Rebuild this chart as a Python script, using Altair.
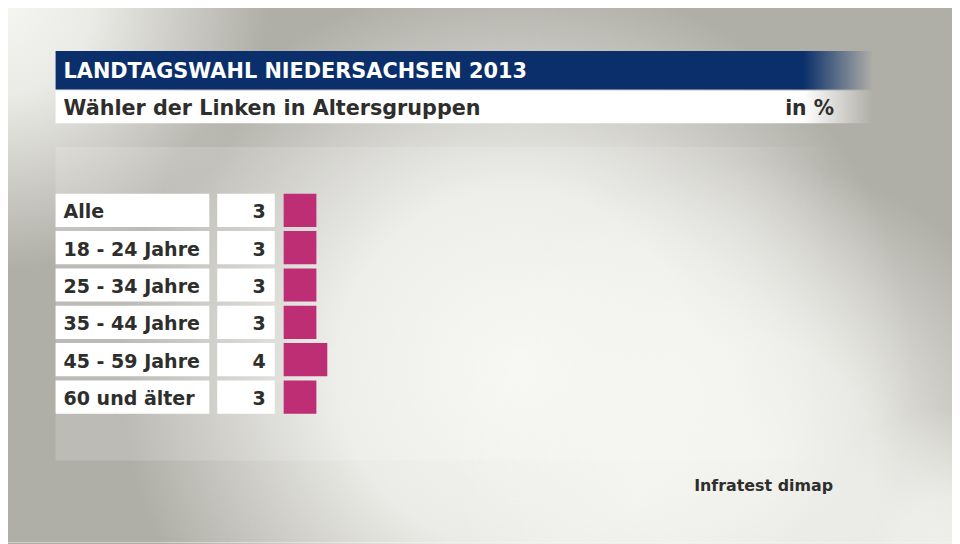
import altair as alt
import pandas as pd

# ---- data ----
categories = ["Alle", "18 - 24 Jahre", "25 - 34 Jahre", "35 - 44 Jahre", "45 - 59 Jahre", "60 und älter"]
values = [3, 3, 3, 3, 4, 3]
title_text = "LANDTAGSWAHL NIEDERSACHSEN 2013"
subtitle_text = "Wähler der Linken in Altersgruppen"
unit_text = "in %"
source_text = "Infratest dimap"

df = pd.DataFrame({"cat": categories, "val": values})
one = pd.DataFrame({"a": [0]})

W, H = 952, 536
FONT = "DejaVu Sans"
NAVY = "#0a2f6a"
MAG = "#be2e74"
DARK = "#2e2e2c"
GRAY = "#afaea7"

yscale = alt.Scale(domain=categories, range=[185, 406.8], paddingInner=0.11, paddingOuter=0)
xscale = alt.Scale(domain=[0, 60], range=[278, 278 + 660])

base1 = alt.Chart(one)


def blob(cx, cy, R, rgb, inner_alpha=1.0, mid=0.45):
    # circular light spot, centre (cx, cy) in page pixels
    r, g, b = rgb
    return base1.mark_rect(
        color=alt.Gradient(
            gradient="radial",
            x1=0.5, y1=0.5, r1=0.0,
            x2=0.5, y2=0.5, r2=0.5,
            stops=[
                alt.GradientStop(offset=0, color=f"rgba({r},{g},{b},{inner_alpha})"),
                alt.GradientStop(offset=mid, color=f"rgba({r},{g},{b},{inner_alpha * 0.85})"),
                alt.GradientStop(offset=1, color=f"rgba({r},{g},{b},0)"),
            ],
        )
    ).encode(
        x=alt.value(cx - 8 - R), x2=alt.value(cx - 8 + R),
        y=alt.value(cy - 8 - R), y2=alt.value(cy - 8 + R),
    )


bg = base1.mark_rect(color=GRAY).encode(
    x=alt.value(-8), x2=alt.value(W), y=alt.value(-8), y2=alt.value(H)
)
light1 = blob(520, 370, 400, (246, 246, 242), 1.0, 0.45)
light2 = blob(760, 460, 300, (246, 246, 242), 0.9, 0.4)
corner = blob(0, 0, 270, (245, 245, 241), 1.0, 0.35)
corner2 = blob(960, 560, 150, (244, 244, 240), 0.9, 0.4)

panel = base1.mark_rect(
    color=alt.Gradient(
        gradient="linear", x1=0, y1=0, x2=1, y2=0,
        stops=[
            alt.GradientStop(offset=0, color="rgba(255,255,255,0.16)"),
            alt.GradientStop(offset=0.88, color="rgba(255,255,255,0.12)"),
            alt.GradientStop(offset=1, color="rgba(255,255,255,0)"),
        ],
    )
).encode(x=alt.value(48), x2=alt.value(830), y=alt.value(138), y2=alt.value(454))

titlebar = base1.mark_rect(
    color=alt.Gradient(
        gradient="linear", x1=0, y1=0, x2=1, y2=0,
        stops=[
            alt.GradientStop(offset=0, color=NAVY),
            alt.GradientStop(offset=0.915, color=NAVY),
            alt.GradientStop(offset=1, color="rgba(10,47,106,0)"),
        ],
    )
).encode(x=alt.value(48), x2=alt.value(872), y=alt.value(41), y2=alt.value(80))

subbar = base1.mark_rect(
    color=alt.Gradient(
        gradient="linear", x1=0, y1=0, x2=1, y2=0,
        stops=[
            alt.GradientStop(offset=0, color="#ffffff"),
            alt.GradientStop(offset=0.915, color="#ffffff"),
            alt.GradientStop(offset=1, color="rgba(255,255,255,0)"),
        ],
    )
).encode(x=alt.value(48), x2=alt.value(872), y=alt.value(81), y2=alt.value(114))

title = base1.mark_text(
    text=title_text, font=FONT, fontSize=21, fontWeight="bold", color="white",
    align="left", baseline="alphabetic",
).encode(x=alt.value(56), y=alt.value(68))

subtitle = base1.mark_text(
    text=subtitle_text, font=FONT, fontSize=20.9, fontWeight="bold", color=DARK,
    align="left", baseline="alphabetic",
).encode(x=alt.value(56), y=alt.value(106))

unit = base1.mark_text(
    text=unit_text, font=FONT, fontSize=20.5, fontWeight="bold", color=DARK,
    align="right", baseline="alphabetic",
).encode(x=alt.value(833), y=alt.value(106))

source = base1.mark_text(
    text=source_text, font=FONT, fontSize=16, fontWeight="bold", color=DARK,
    align="right", baseline="alphabetic",
).encode(x=alt.value(832), y=alt.value(485))

rows = alt.Chart(df)
ycat = alt.Y("cat:N", scale=yscale, axis=None, sort=categories)

labelbox = rows.mark_rect(color="white").encode(
    x=alt.value(48), x2=alt.value(203), y=ycat
)
valbox = rows.mark_rect(color="white").encode(
    x=alt.value(211), x2=alt.value(269), y=ycat
)
bars = rows.mark_bar(color=MAG).encode(
    x=alt.X("val:Q", scale=xscale, axis=None),
    x2=alt.datum(0),
    y=ycat,
)
labels = rows.mark_text(
    font=FONT, fontSize=19.2, fontWeight="bold", color=DARK, align="left", baseline="middle", dy=2
).encode(x=alt.value(56), y=ycat, text="cat:N")
vals = rows.mark_text(
    font=FONT, fontSize=19.2, fontWeight="bold", color=DARK, align="right", baseline="middle", dy=2
).encode(x=alt.value(260), y=ycat, text="val:Q")

chart = alt.layer(
    bg, light1, light2, corner, corner2, panel, titlebar, subbar, title, subtitle, unit, source,
    labelbox, valbox, bars, labels, vals
).properties(
    width=W, height=H, padding=0, autosize=alt.AutoSizeParams(type="none")
).configure_view(strokeWidth=0).configure(background=GRAY)

chart.save("out.html", embed_options={"renderer": "svg", "actions": False})
